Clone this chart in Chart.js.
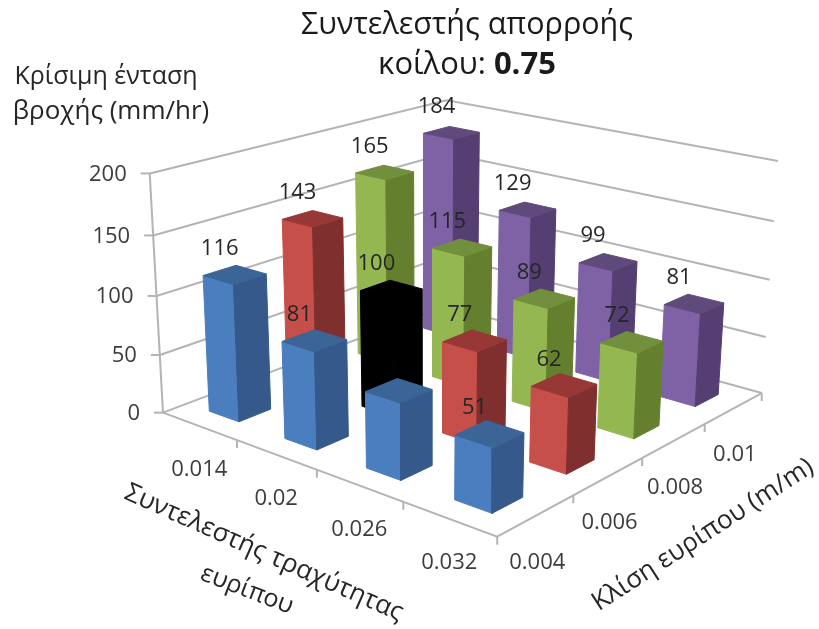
<!DOCTYPE html>
<html>
<head>
<meta charset="utf-8">
<title>Κρίσιμη ένταση βροχής</title>
<script src="https://cdn.jsdelivr.net/npm/chart.js@4"></script>
<style>
  body { margin: 0; background: #fff; }
  canvas { display: block; }
</style>
</head>
<body>
<canvas id="chart3d" width="819" height="629"></canvas>
<script>
// Values
const roughness = ['0.014', '0.02', '0.026', '0.032'];
const slopes = ['0.004', '0.006', '0.008', '0.01'];
const heightTicks = [0, 50, 100, 150, 200];
const blueValues = [116, 81, 62, 51];
const redValues = [143, 100, 77, 62];
const greenValues = [165, 115, 89, 72];
const purpleValues = [184, 129, 99, 81];

const rows = [blueValues, redValues, greenValues, purpleValues];
const rowColors = [
  { side: '#4a7ebe', dark: '#35598a', top: '#3b6597' },
  { side: '#c64f4a', dark: '#7f2f2e', top: '#973836' },
  { side: '#95b752', dark: '#64802f', top: '#718f3c' },
  { side: '#7f62a6', dark: '#553f72', top: '#604a7c' }
];
const blackBar = { side: '#000000', dark: '#000000', top: '#000000' };
const gridColor = '#b4b4b4';
const textColor = '#3c3c3c';

// Floor corners and wall tops on screen, used to fit the camera
const anchors = [
  [0, 0, 0, 163, 410], [4, 0, 0, 498, 538], [4, 4, 0, 762, 392], [0, 4, 0, 445, 308],
  [0, 0, 200, 149, 175], [0, 4, 200, 448, 99], [4, 4, 200, 777, 161]
];

function solve(A, b) {
  const n = b.length;
  for (let i = 0; i < n; i++) {
    let best = i;
    for (let r = i + 1; r < n; r++) if (Math.abs(A[r][i]) > Math.abs(A[best][i])) best = r;
    [A[i], A[best]] = [A[best], A[i]];
    [b[i], b[best]] = [b[best], b[i]];
    for (let r = i + 1; r < n; r++) {
      const f = A[r][i] / A[i][i];
      for (let c = i; c < n; c++) A[r][c] -= f * A[i][c];
      b[r] -= f * b[i];
    }
  }
  const out = new Array(n).fill(0);
  for (let i = n - 1; i >= 0; i--) {
    let s = b[i];
    for (let c = i + 1; c < n; c++) s -= A[i][c] * out[c];
    out[i] = s / A[i][i];
  }
  return out;
}

// Least squares for an 11 parameter projective camera
function fitCamera() {
  const ata = Array.from({ length: 11 }, () => new Array(11).fill(0));
  const atb = new Array(11).fill(0);
  function addRow(row, val) {
    for (let i = 0; i < 11; i++) {
      atb[i] += row[i] * val;
      for (let j = 0; j < 11; j++) ata[i][j] += row[i] * row[j];
    }
  }
  anchors.forEach(([u, v, h, sx, sy]) => {
    const w = h / 50;
    addRow([u, v, w, 1, 0, 0, 0, 0, -sx * u, -sx * v, -sx * w], sx);
    addRow([0, 0, 0, 0, u, v, w, 1, -sy * u, -sy * v, -sy * w], sy);
  });
  return solve(ata, atb);
}
const cam = fitCamera();

function project(u, v, h) {
  const w = h / 50;
  const d = cam[8] * u + cam[9] * v + cam[10] * w + 1;
  return {
    x: (cam[0] * u + cam[1] * v + cam[2] * w + cam[3]) / d,
    y: (cam[4] * u + cam[5] * v + cam[6] * w + cam[7]) / d
  };
}

function lineSet(points, width) {
  return {
    data: points, showLine: true, fill: false, pointRadius: 0,
    borderColor: gridColor, borderWidth: width || 2, tension: 0, clip: false
  };
}

function faceSet(points, color) {
  return {
    data: points.concat([points[0]]), showLine: true, fill: 'shape', pointRadius: 0,
    backgroundColor: color, borderColor: color, borderWidth: 1, tension: 0, clip: false
  };
}

const layers = [];

// walls
heightTicks.forEach(h => {
  layers.push(lineSet([project(0, 0, h), project(0, 4, h), project(4, 4, h)]));
});
layers.push(lineSet([project(0, 0, 0), project(0, 0, 200)]));
heightTicks.forEach(h => {
  const p = project(0, 0, h);
  layers.push(lineSet([p, { x: p.x - 9, y: p.y }]));
});

// floor edges and ticks
layers.push(lineSet([project(0, 0, 0), project(4, 0, 0), project(4, 4, 0)]));
for (let i = 1; i <= 4; i++) {
  let p = project(i, 0, 0);
  layers.push(lineSet([p, { x: p.x, y: p.y + 8 }]));
  p = project(4, i, 0);
  layers.push(lineSet([p, { x: p.x, y: p.y + 8 }]));
}

// bars, back row first, far to near inside a row
const gap = 0.3;
for (let r = rows.length - 1; r >= 0; r--) {
  rows[r].forEach((val, i) => {
    const col = (r === 1 && i === 1) ? blackBar : rowColors[r];
    const u0 = i + gap, u1 = i + 1 - gap, v0 = r + gap, v1 = r + 1 - gap;
    layers.push(faceSet([project(u0, v0, 0), project(u1, v0, 0), project(u1, v0, val), project(u0, v0, val)], col.side));
    layers.push(faceSet([project(u1, v0, 0), project(u1, v1, 0), project(u1, v1, val), project(u1, v0, val)], col.dark));
    layers.push(faceSet([project(u0, v0, val), project(u1, v0, val), project(u1, v1, val), project(u0, v1, val)], col.top));
  });
}

const textPlugin = {
  id: 'textPlugin',
  afterDatasetsDraw(chart) {
    const ctx = chart.ctx;
    const font = (size, weight) => (weight || '') + ' ' + size + 'px "Open Sans", "Noto Sans", sans-serif';
    function put(str, x, y, size, color, angle, weight) {
      ctx.save();
      ctx.translate(x, y);
      if (angle) ctx.rotate(angle * Math.PI / 180);
      ctx.font = font(size, weight);
      ctx.fillStyle = color;
      ctx.textAlign = 'center';
      ctx.textBaseline = 'middle';
      ctx.fillText(str, 0, 0);
      ctx.restore();
    }

    // data labels; the blue 0.026 label sits on the black bar and cannot be seen
    rows.forEach((row, r) => row.forEach((val, i) => {
      if (r === 0 && i === 2) return;
      const p = project(i + 0.5, r + 0.5, val);
      put(String(val), p.x - 15, p.y - 26, 22, '#262626');
    }));

    heightTicks.forEach(h => {
      const p = project(0, 0, h);
      ctx.font = font(22);
      ctx.fillStyle = textColor;
      ctx.textAlign = 'right';
      ctx.textBaseline = 'middle';
      ctx.fillText(String(h), p.x - 23, p.y + 1);
    });
    roughness.forEach((t, i) => {
      const p = project(i + 0.5, 0, 0);
      put(t, p.x, p.y + 44, 22, textColor);
    });
    slopes.forEach((t, i) => {
      const p = project(4, i + 0.5, 0);
      put(t, p.x + 1, p.y + 47, 22, textColor);
    });

    put('Συντελεστής απορροής', 467, 25, 30.5, '#1a1a1a');
    ctx.font = font(31);
    const plain = 'κοίλου: ';
    const w1 = ctx.measureText(plain).width;
    ctx.font = font(31, 'bold');
    const w2 = ctx.measureText('0.75').width;
    const start = 467 - (w1 + w2) / 2;
    ctx.textAlign = 'left';
    ctx.textBaseline = 'middle';
    ctx.fillStyle = '#1a1a1a';
    ctx.font = font(31);
    ctx.fillText(plain, start, 65);
    ctx.font = font(31, 'bold');
    ctx.fillText('0.75', start + w1, 65);

    put('Κρίσιμη ένταση', 106, 77, 25, '#262626');
    put('βροχής (mm/hr)', 111, 112, 26, '#262626');
    put('Συντελεστής τραχύτητας', 264, 553, 26, '#262626', 24);
    put('ευρίπου', 247, 590, 25, '#262626', 21);
    put('Κλίση ευρίπου (m/m)', 703, 535, 26, '#262626', -33);
  }
};

new Chart(document.getElementById('chart3d').getContext('2d'), {
  type: 'scatter',
  data: { datasets: layers.reverse() }, // chart.js paints the last dataset first
  options: {
    responsive: false,
    animation: false,
    layout: { padding: 0 },
    plugins: { legend: { display: false }, tooltip: { enabled: false }, title: { display: false } },
    scales: {
      x: { type: 'linear', min: 0, max: 819, display: false },
      y: { type: 'linear', min: 0, max: 629, reverse: true, display: false }
    }
  },
  plugins: [textPlugin]
});
</script>
</body>
</html>
